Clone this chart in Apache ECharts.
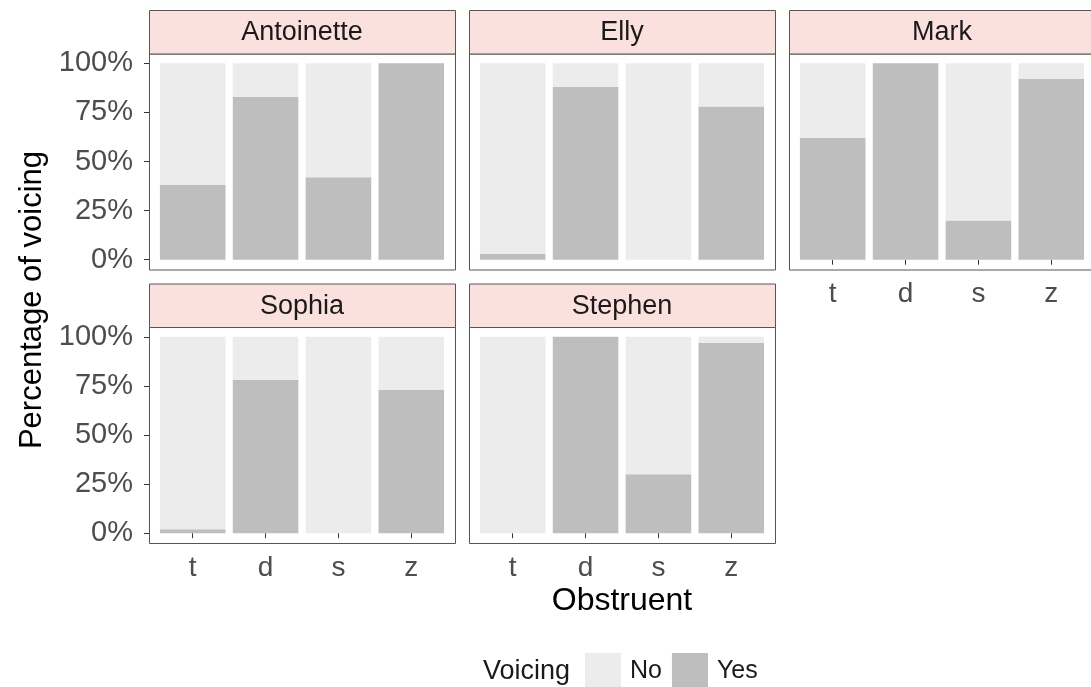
<!doctype html>
<html>
<head>
<meta charset="utf-8"/>
<title>Voicing by obstruent</title>
<script src="https://cdn.jsdelivr.net/npm/echarts@6/dist/echarts.min.js"></script>
<style>
  html, body { margin: 0; padding: 0; background: #fff; }
  #chart { width: 1091px; height: 687px; }
</style>
</head>
<body>
<div id="chart"></div>
<script>
    // data (percentage of tokens voiced)
    const speakers = ["Antoinette", "Elly", "Mark", "Sophia", "Stephen"];
    const obstruents = ["t", "d", "s", "z"];
    const yesAntoinette = [38, 83, 42, 100];
    const yesElly = [3, 88, 0, 78];
    const yesMark = [62, 100, 20, 92];
    const yesSophia = [2, 78, 0, 73];
    const yesStephen = [0, 100, 30, 97];
    const yTicks = [0, 25, 50, 75, 100];

    const yesBySpeaker = [yesAntoinette, yesElly, yesMark, yesSophia, yesStephen];

    // facet layout (row, col) like facet_wrap with 3 columns
    const cells = [[0, 0], [0, 1], [0, 2], [1, 0], [1, 1]];
    const colLeft = [149, 469, 789];
    const stripTop = [10, 283.5];
    const stripH = 43.5;
    const frameW = 306;
    const frameH = 216;
    const unit = frameW / 4.2;
    const yPad = frameH * 0.05 / 1.1;

    const font = "'Liberation Sans', Arial, sans-serif";
    const colNo = "#ececec";
    const colYes = "#bebebe";

    var chart = echarts.init(document.getElementById("chart"));

    var grids = [], xAxes = [], yAxes = [], series = [], graphics = [];

    speakers.forEach(function (name, i) {
        var r = cells[i][0], c = cells[i][1];
        var fl = colLeft[c];
        var ft = stripTop[r] + stripH;
        var bottomOfColumn = (r === 1) || (c === 2);

        grids.push({
            left: fl + unit * 0.1,
            top: ft + yPad,
            width: unit * 4,
            height: frameH - 2 * yPad,
            containLabel: false
        });
        xAxes.push({
            type: "category",
            gridIndex: i,
            data: obstruents,
            offset: yPad,
            show: bottomOfColumn,
            axisLine: {show: false},
            axisTick: {show: true, alignWithLabel: true, length: 5, lineStyle: {color: "#333"}},
            axisLabel: {fontSize: 28, color: "#4d4d4d", fontFamily: font, margin: 11}
        });
        yAxes.push({
            type: "value",
            gridIndex: i,
            min: 0,
            max: 100,
            interval: 25,
            offset: unit * 0.1,
            show: c === 0,
            splitLine: {show: false},
            axisLine: {show: false},
            axisTick: {show: true, length: 5, lineStyle: {color: "#333"}},
            axisLabel: {
                fontSize: 29, color: "#4d4d4d", fontFamily: font, margin: 16,
                formatter: function (v) { return yTicks.indexOf(v) >= 0 ? v + "%" : ""; }
            }
        });

        var yes = yesBySpeaker[i];
        series.push({
            name: "Yes", type: "bar", stack: "s" + i,
            xAxisIndex: i, yAxisIndex: i,
            barCategoryGap: "10%",
            itemStyle: {color: colYes},
            data: yes
        });
        series.push({
            name: "No", type: "bar", stack: "s" + i,
            xAxisIndex: i, yAxisIndex: i,
            barCategoryGap: "10%",
            itemStyle: {color: colNo},
            data: yes.map(function (v) { return 100 - v; })
        });

        // panel border
        graphics.push({
            type: "rect",
            shape: {x: fl + 0.5, y: ft + 0.5, width: frameW, height: frameH},
            style: {fill: null, stroke: "#555", lineWidth: 1},
            z: 10
        });
        // strip
        graphics.push({
            type: "rect",
            shape: {x: fl + 0.5, y: stripTop[r] + 0.5, width: frameW, height: stripH},
            style: {fill: "#fbe1de", stroke: "#555", lineWidth: 1},
            z: 10
        });
        graphics.push({
            type: "text",
            x: fl + frameW / 2,
            y: stripTop[r] + stripH / 2 + 1,
            style: {
                text: name, fill: "#1a1a1a", font: "27px " + font,
                textAlign: "center", textVerticalAlign: "middle"
            },
            z: 11
        });
    });

    // axis titles and legend title
    graphics.push({
        type: "text",
        x: 32, y: 300, rotation: Math.PI / 2,
        style: {
            text: "Percentage of voicing", fill: "#000", font: "31px " + font,
            textAlign: "center", textVerticalAlign: "middle"
        }
    });
    graphics.push({
        type: "text",
        x: 622, y: 601,
        style: {
            text: "Obstruent", fill: "#000", font: "32px " + font,
            textAlign: "center", textVerticalAlign: "middle"
        }
    });
    graphics.push({
        type: "text",
        x: 483, y: 672,
        style: {
            text: "Voicing", fill: "#1a1a1a", font: "27px " + font,
            textAlign: "left", textVerticalAlign: "middle"
        }
    });

    var option = {
        animation: false,
        backgroundColor: "#fff",
        grid: grids,
        xAxis: xAxes,
        yAxis: yAxes,
        series: series,
        graphic: graphics,
        legend: {
            data: ["No", "Yes"],
            left: 585,
            top: 653,
            padding: 0,
            orient: "horizontal",
            icon: "rect",
            itemWidth: 36,
            itemHeight: 36,
            itemGap: 10,
            selectedMode: false,
            textStyle: {fontSize: 25, color: "#1a1a1a", fontFamily: font, padding: [0, 0, 0, 4]}
        }
    };
    chart.setOption(option);

    window.onresize = function () {
        chart.resize();
    };
</script>
</body>
</html>
